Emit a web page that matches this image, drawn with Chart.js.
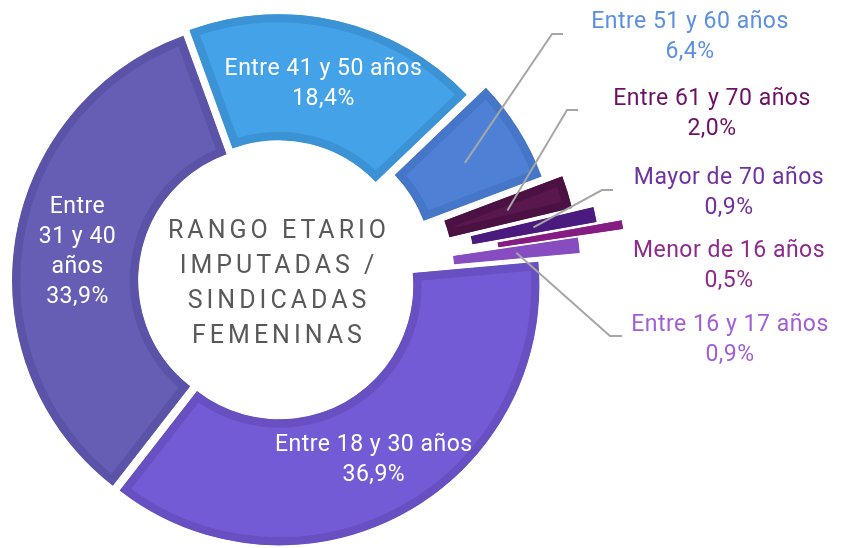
<!DOCTYPE html>
<html lang="es">
<head>
<meta charset="utf-8">
<title>Rango etario imputadas / sindicadas femeninas</title>
<script src="https://cdn.jsdelivr.net/npm/chart.js@4.4.1/dist/chart.umd.min.js"></script>
<style>
  html, body { margin: 0; padding: 0; background: #fff; }
  #wrap { width: 841px; height: 548px; position: relative; }
</style>
</head>
<body>
<div id="wrap"><canvas id="rangoChart"></canvas></div>
<script>
// datos (orden horario, empezando arriba)
const categorias = [
  "Entre 41 y 50 años",
  "Entre 51 y 60 años",
  "Entre 61 y 70 años",
  "Mayor de 70 años",
  "Menor de 16 años",
  "Entre 16 y 17 años",
  "Entre 18 y 30 años",
  "Entre 31 y 40 años"
];
const porcentajes = [18.4, 6.4, 2.0, 0.9, 0.5, 0.9, 36.9, 33.9];

// texto de cada etiqueta (el porcentaje se agrega despues)
const lineasEtiqueta = [
  ["Entre 41 y 50 años"],
  ["Entre 51 y 60 años"],
  ["Entre 61 y 70 años"],
  ["Mayor de 70 años"],
  ["Menor de 16 años"],
  ["Entre 16 y 17 años"],
  ["Entre 18 y 30 años"],
  ["Entre", "31 y 40", "años"]
];
const tituloCentro = ["RANGO ETARIO", "IMPUTADAS /", "SINDICADAS", "FEMENINAS"];

// estilos
const colores = ["#44a3e8", "#4e80d6", "#58174d", "#521f88", "#8a2087", "#8f55c9", "#735bd5", "#665db5"];
const bordes = ["#3b93d5", "#4676c8", "#4c1143", "#4a1a7e", "#851c82", "#874dc0", "#6850c2", "#5b53a7"];
const coloresTexto = ["#ffffff", "#5b8fe1", "#6d0f64", "#7030a0", "#8e2a8c", "#a05fd8", "#ffffff", "#ffffff"];
const separacion = [7, 25, 44, 65, 90, 44, 5, 5];

// ubicacion de etiquetas externas (x centro, linea base) y su guia
const posEtiquetas = [
  { dentro: true },
  { x: 690, y: 28, codo: [552, 34], fin: [563, 34] },
  { x: 712, y: 105, codo: [567, 110], fin: [578, 110] },
  { x: 729, y: 184, codo: [602, 190], fin: [613, 190] },
  { x: 729, y: 257 },
  { x: 730, y: 331, codo: [610, 336], fin: [622, 336] },
  { dentro: true },
  { dentro: true }
];

const fuente = "Roboto, 'DejaVu Sans', sans-serif";
const altoLinea = 30;

function formatoPct(v) {
  return v.toFixed(1).replace(".", ",") + "%";
}

// separa cada porcion hacia afuera (explode) moviendo su centro
const explotar = {
  id: "explotar",
  afterDatasetUpdate(chart, args) {
    args.meta.data.forEach((arc, i) => {
      const mid = (arc.startAngle + arc.endAngle) / 2;
      const d = separacion[i] || 0;
      arc.x += Math.cos(mid) * d;
      arc.y += Math.sin(mid) * d;
    });
  }
};

const etiquetas = {
  id: "etiquetas",
  afterDatasetsDraw(chart) {
    const ctx = chart.ctx;
    const arcs = chart.getDatasetMeta(0).data;
    ctx.save();
    ctx.font = `23px ${fuente}`;
    ctx.letterSpacing = "0.5px";
    ctx.textAlign = "center";
    ctx.textBaseline = "alphabetic";

    arcs.forEach((arc, i) => {
      const lineas = [...lineasEtiqueta[i], formatoPct(porcentajes[i])];
      const pos = posEtiquetas[i];
      const c = arc.tooltipPosition();
      ctx.fillStyle = coloresTexto[i];
      if (pos.dentro) {
        const y0 = c.y - (lineas.length - 1) * altoLinea / 2 + 8;
        lineas.forEach((t, k) => ctx.fillText(t, c.x, y0 + k * altoLinea));
        return;
      }
      if (pos.codo) {
        ctx.beginPath();
        ctx.moveTo(c.x, c.y);
        ctx.lineTo(pos.codo[0], pos.codo[1]);
        ctx.lineTo(pos.fin[0], pos.fin[1]);
        ctx.strokeStyle = "#a6a6a6";
        ctx.lineWidth = 2;
        ctx.stroke();
      }
      lineas.forEach((t, k) => ctx.fillText(t, pos.x, pos.y + k * altoLinea));
    });

    // titulo en el hueco
    const cx = (chart.chartArea.left + chart.chartArea.right) / 2;
    const cy = (chart.chartArea.top + chart.chartArea.bottom) / 2;
    ctx.font = `25px ${fuente}`;
    ctx.letterSpacing = "4px";
    ctx.fillStyle = "#595959";
    const y0 = cy - (tituloCentro.length - 1) * 35 / 2 + 9;
    tituloCentro.forEach((t, k) => ctx.fillText(t, cx + 2, y0 + k * 35));
    ctx.restore();
  }
};

new Chart(document.getElementById("rangoChart").getContext("2d"), {
  type: "doughnut",
  data: {
    labels: categorias,
    datasets: [{
      data: porcentajes,
      backgroundColor: colores,
      borderColor: bordes,
      borderWidth: 8,
      borderAlign: "inner",
      borderJoinStyle: "miter"
    }]
  },
  options: {
    responsive: true,
    maintainAspectRatio: false,
    animation: false,
    rotation: -20,
    radius: 260,
    cutout: "51.5%",
    layout: { padding: { left: 0, right: 287, top: 14, bottom: 0 } },
    plugins: {
      legend: { display: false },
      tooltip: { enabled: false }
    }
  },
  plugins: [explotar, etiquetas]
});
</script>
</body>
</html>
